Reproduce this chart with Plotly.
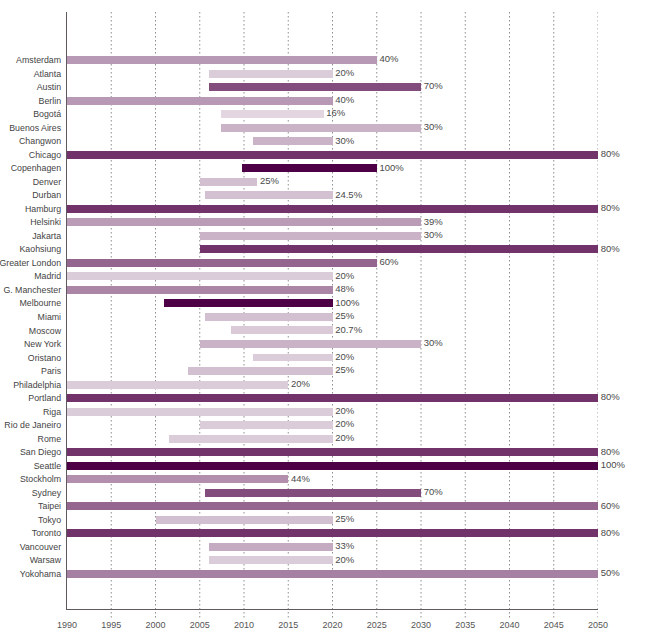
import plotly.graph_objects as go

cities = ["Amsterdam", "Atlanta", "Austin", "Berlin", "Bogotá", "Buenos Aires", "Changwon",
          "Chicago", "Copenhagen", "Denver", "Durban", "Hamburg", "Helsinki", "Jakarta",
          "Kaohsiung", "Greater London", "Madrid", "G. Manchester", "Melbourne", "Miami",
          "Moscow", "New York", "Oristano", "Paris", "Philadelphia", "Portland", "Riga",
          "Rio de Janeiro", "Rome", "San Diego", "Seattle", "Stockholm", "Sydney", "Taipei",
          "Tokyo", "Toronto", "Vancouver", "Warsaw", "Yokohama"]
start_year = [1990, 2006, 2006, 1990, 2007.4, 2007.4, 2011,
              1990, 2009.8, 2005, 2005.6, 1990, 1990, 2005,
              2005, 1990, 1990, 1990, 2001, 2005.6,
              2008.5, 2005, 2011, 2003.7, 1990, 1990, 1990,
              2005, 2001.5, 1990, 1990, 1990, 2005.6, 1990,
              2000, 1990, 2006, 2006, 1990]
target_year = [2025, 2020, 2030, 2020, 2019, 2030, 2020,
               2050, 2025, 2011.5, 2020, 2050, 2030, 2030,
               2050, 2025, 2020, 2020, 2020, 2020,
               2020, 2030, 2020, 2020, 2015, 2050, 2020,
               2020, 2020, 2050, 2050, 2015, 2030, 2050,
               2020, 2050, 2020, 2020, 2050]
reduction_pct = [40, 20, 70, 40, 16, 30, 30,
                 80, 100, 25, 24.5, 80, 39, 30,
                 80, 60, 20, 48, 100, 25,
                 20.7, 30, 20, 25, 20, 80, 20,
                 20, 20, 80, 100, 44, 70, 60,
                 25, 80, 33, 20, 50]
year_ticks = list(range(1990, 2051, 5))


def shade(p):
    dark = (77, 0, 69)
    t = p / 100.0
    r, g, b = (round(255 - (255 - c) * t) for c in dark)
    return f"rgb({r},{g},{b})"


def fmt(p):
    return " " + (f"{p:g}") + "%"


idx = list(range(len(cities)))
lengths = [e - s for s, e in zip(start_year, target_year)]

fig = go.Figure()
fig.add_trace(go.Bar(
    y=idx, x=lengths, base=start_year, orientation="h",
    marker=dict(color=[shade(p) for p in reduction_pct], line=dict(width=0)),
    width=0.59, hoverinfo="skip", showlegend=False,
))
fig.add_trace(go.Scatter(
    y=idx, x=target_year, mode="text", text=[fmt(p) for p in reduction_pct],
    textposition="middle right",
    textfont=dict(family="Liberation Sans, Arial, sans-serif", size=9.5, color="#4a4a4a"),
    cliponaxis=False, hoverinfo="skip", showlegend=False,
))

# dotted vertical gridlines extending slightly below the axis
for yr in year_ticks[1:]:
    fig.add_shape(type="line", xref="x", yref="paper", x0=yr, x1=yr, y0=-0.014, y1=1,
                  line=dict(color="#555555", width=1, dash="1px,3px"), layer="below")

fig.update_layout(
    width=658, height=638,
    margin=dict(l=67, r=60, t=12, b=29, autoexpand=False),
    paper_bgcolor="white", plot_bgcolor="white",
    bargap=0,
    font=dict(family="Liberation Sans, Arial, sans-serif", color="#4a4a4a"),
    xaxis=dict(
        range=[1990, 2050], tickvals=year_ticks, ticktext=[str(y) for y in year_ticks],
        showgrid=False, zeroline=False, showline=True, linecolor="#5f5a5d", linewidth=1.3,
        ticks="", tickfont=dict(size=9, color="#555555"), ticklabelstandoff=7,
        automargin=False,
    ),
    yaxis=dict(
        range=[40.6, -3.55], tickvals=idx, ticktext=cities,
        showgrid=False, zeroline=False, showline=True, linecolor="#5f5a5d", linewidth=1.3,
        ticks="", tickfont=dict(size=8.8, color="#444444"), ticklabelstandoff=3,
        automargin=False,
    ),
)

fig.write_html(
    "out.html",
    config={"displayModeBar": False},
    post_script="document.body.style.margin='0';document.body.style.overflow='hidden';",
)
